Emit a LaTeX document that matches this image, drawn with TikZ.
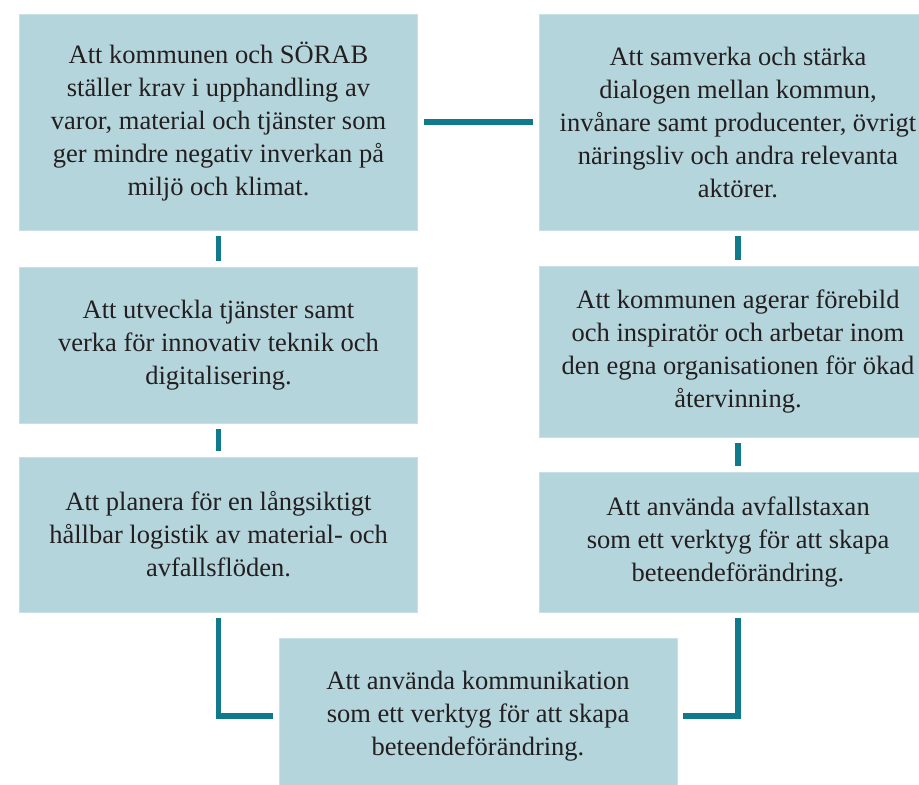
\documentclass[tikz,border=0pt]{standalone}
\usepackage{fontspec}
\setmainfont{Liberation Serif}
\definecolor{boxblue}{RGB}{181,213,220}
\definecolor{linkteal}{RGB}{16,122,138}
\definecolor{inkgray}{RGB}{35,31,32}

\begin{document}
\begin{tikzpicture}[x=1pt, y=-1pt,
        goal/.style={rectangle, fill=boxblue, draw=boxblue!75!white, line width=0.8pt,
            minimum width=398pt, inner sep=0pt, align=center, text=inkgray,
            font=\fontsize{26.5}{33}\selectfont},
        link/.style={draw=linkteal, line width=5.5pt, shorten <=6pt, shorten >=6pt}]
        \useasboundingbox (0,0) rectangle (919,785);

        \node[goal, minimum height=216pt] (upph) at (218.5, 122) {Att kommunen och SÖRAB\\ställer krav i upphandling av\\varor, material och tjänster som\\ger mindre negativ inverkan på\\miljö och klimat.}; % upphandling
        \node[goal, minimum height=156pt] (teknik) at (218.5, 345) {Att utveckla tjänster samt\\verka för innovativ teknik och\\digitalisering.}; % teknik
        \node[goal, minimum height=155pt] (logistik) at (218.5, 534.5) {Att planera för en långsiktigt\\hållbar logistik av material- och\\avfallsflöden.}; % logistik
        \node[goal, minimum height=216pt] (dialog) at (738, 122) {Att samverka och stärka\\dialogen mellan kommun,\\invånare samt producenter, övrigt\\näringsliv och andra relevanta\\aktörer.}; % dialog
        \node[goal, minimum height=171pt] (forebild) at (738, 351.5) {Att kommunen agerar förebild\\och inspiratör och arbetar inom\\den egna organisationen för ökad\\återvinning.}; % förebild
        \node[goal, minimum height=140pt] (taxa) at (738, 542) {Att använda avfallstaxan\\som ett verktyg för att skapa\\beteendeförändring.}; % taxa
        \node[goal, minimum height=156pt] (komm) at (478, 716) {Att använda kommunikation\\som ett verktyg för att skapa\\beteendeförändring.}; % kommunikation

        \draw[link]
            (upph) edge (dialog)
            (upph) edge (teknik)
            (teknik) edge (logistik)
            (dialog) edge (forebild)
            (forebild) edge (taxa)
            ;
        \draw[link] (logistik) |- (komm);
        \draw[link] (taxa) |- (komm);
    \end{tikzpicture}
\end{document}
